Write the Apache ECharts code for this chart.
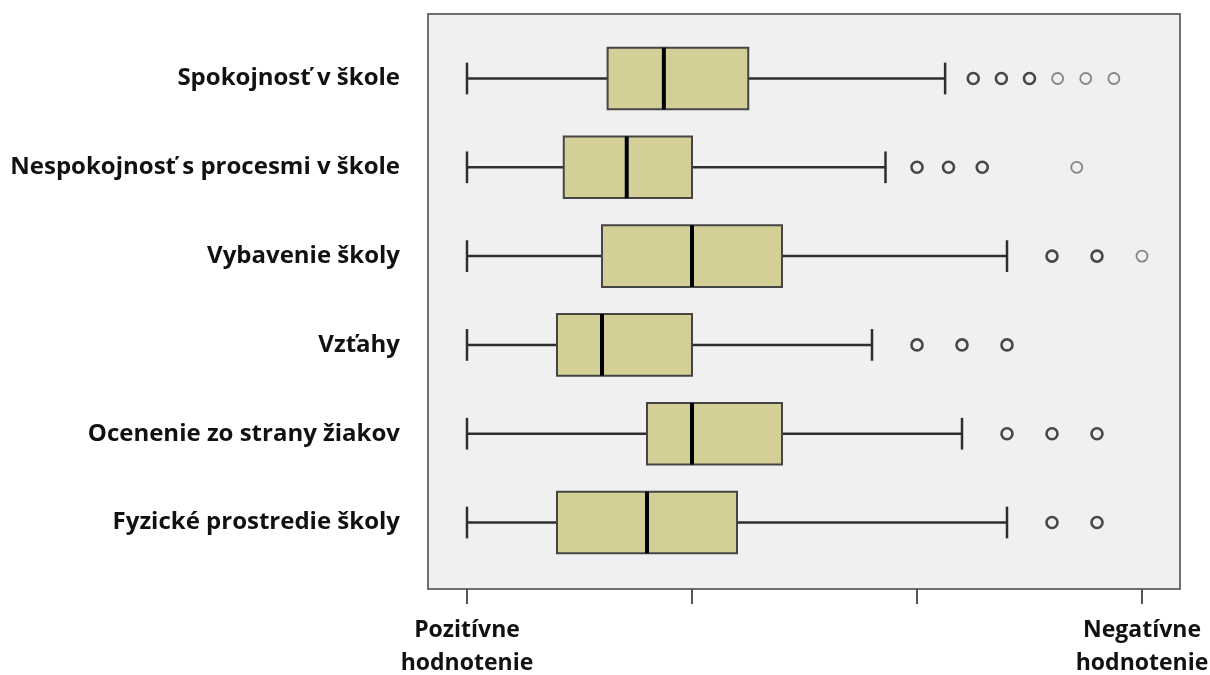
<!DOCTYPE html>
<html>
<head>
<meta charset="utf-8">
<script src="https://cdn.jsdelivr.net/npm/echarts@6/dist/echarts.min.js"></script>
<style>
html,body{margin:0;padding:0;background:#fff;}
#chart{width:1210px;height:675px;}
</style>
</head>
<body>
<div id="chart"></div>
<script>
// ---- data ----
const categories = [
  'Spokojnosť v škole',
  'Nespokojnosť s procesmi v škole',
  'Vybavenie školy',
  'Vzťahy',
  'Ocenenie zo strany žiakov',
  'Fyzické prostredie školy'
];
const whiskerLow  = [0, 0, 0, 0, 0, 0];
const q1          = [0.625, 0.43, 0.6, 0.4, 0.8, 0.4];
const median      = [0.875, 0.71, 1.0, 0.6, 1.0, 0.8];
const q3          = [1.25, 1.0, 1.4, 1.0, 1.4, 1.2];
const whiskerHigh = [2.125, 1.86, 2.4, 1.8, 2.2, 2.4];
// outliers: [value, category index]
const outliersMulti = [
  [2.25, 0], [2.375, 0], [2.5, 0],
  [2.0, 1], [2.14, 1], [2.29, 1],
  [2.6, 2], [2.8, 2],
  [2.0, 3], [2.2, 3], [2.4, 3],
  [2.4, 4], [2.6, 4], [2.8, 4],
  [2.6, 5], [2.8, 5]
];
const outliersSingle = [
  [2.625, 0], [2.75, 0], [2.875, 0],
  [2.71, 1],
  [3.0, 2]
];
const axisEndLabels = ['Pozitívne\nhodnotenie', 'Negatívne\nhodnotenie'];

// ---- chart ----
const FONT = '"Open Sans", Lato, "DejaVu Sans", sans-serif';
const chart = echarts.init(document.getElementById('chart'), null, {renderer: 'canvas'});

function renderBox(params, api) {
  const idx = api.value(0);
  const pLow = api.coord([api.value(1), idx]);
  const pQ1 = api.coord([api.value(2), idx]);
  const pMed = api.coord([api.value(3), idx]);
  const pQ3 = api.coord([api.value(4), idx]);
  const pHigh = api.coord([api.value(5), idx]);
  const unit = api.size([0, 1])[1];
  const boxH = unit * 0.694;
  const capH = unit * 0.357;
  const cy = pMed[1];
  const whiskerStyle = {stroke: '#2e2e2e', lineWidth: 2.5};
  return {
    type: 'group',
    children: [
      {type: 'line', shape: {x1: pLow[0], y1: cy, x2: pQ1[0], y2: cy}, style: whiskerStyle},
      {type: 'line', shape: {x1: pQ3[0], y1: cy, x2: pHigh[0], y2: cy}, style: whiskerStyle},
      {type: 'line', shape: {x1: pLow[0], y1: cy - capH / 2, x2: pLow[0], y2: cy + capH / 2}, style: whiskerStyle},
      {type: 'line', shape: {x1: pHigh[0], y1: cy - capH / 2, x2: pHigh[0], y2: cy + capH / 2}, style: whiskerStyle},
      {type: 'rect', shape: {x: pQ1[0], y: cy - boxH / 2, width: pQ3[0] - pQ1[0], height: boxH},
        style: {fill: '#d4cf97', stroke: '#454545', lineWidth: 2}},
      {type: 'line', shape: {x1: pMed[0], y1: cy - boxH / 2, x2: pMed[0], y2: cy + boxH / 2},
        style: {stroke: '#000', lineWidth: 4}}
    ]
  };
}

const boxData = categories.map((c, i) => [i, whiskerLow[i], q1[i], median[i], q3[i], whiskerHigh[i]]);

chart.setOption({
  animation: false,
  backgroundColor: '#ffffff',
  grid: {
    left: 428, top: 14, width: 752, height: 575,
    containLabel: false, outerBoundsMode: 'none',
    show: true, backgroundColor: '#f0f0f0', borderColor: '#6e6e6e', borderWidth: 2
  },
  xAxis: {
    type: 'value', min: -0.1733, max: 3.1689,
    splitLine: {show: false},
    axisLine: {show: true, onZero: false, lineStyle: {color: '#6e6e6e', width: 2}},
    axisTick: {show: true, customValues: [0, 1, 2, 3], length: 15, lineStyle: {color: '#555', width: 2}},
    axisLabel: {
      customValues: [0, 3],
      formatter: v => (v === 0 ? axisEndLabels[0] : axisEndLabels[1]),
      fontFamily: FONT, fontSize: 23, fontWeight: 'bold', color: '#111',
      lineHeight: 33, margin: 25
    }
  },
  yAxis: {
    type: 'value', inverse: true, min: -0.7264, max: 5.7488,
    splitLine: {show: false},
    axisLine: {show: false},
    axisTick: {show: false},
    axisLabel: {
      customValues: [0, 1, 2, 3, 4, 5],
      formatter: v => categories[Math.round(v)],
      fontFamily: FONT, fontSize: 24, fontWeight: 'bold', color: '#111', margin: 28
    }
  },
  series: [
    {
      type: 'custom',
      renderItem: renderBox,
      encode: {x: [1, 2, 3, 4, 5], y: 0},
      data: boxData,
      z: 2
    },
    {
      type: 'scatter',
      data: outliersMulti,
      symbol: 'circle', symbolSize: 11,
      itemStyle: {color: '#f0f0f0', borderColor: '#1e1e1e', borderWidth: 2.6},
      z: 3
    },
    {
      type: 'scatter',
      data: outliersSingle,
      symbol: 'circle', symbolSize: 11,
      itemStyle: {color: '#f0f0f0', borderColor: '#6a6a6a', borderWidth: 1.8},
      z: 3
    }
  ]
});
</script>
</body>
</html>
